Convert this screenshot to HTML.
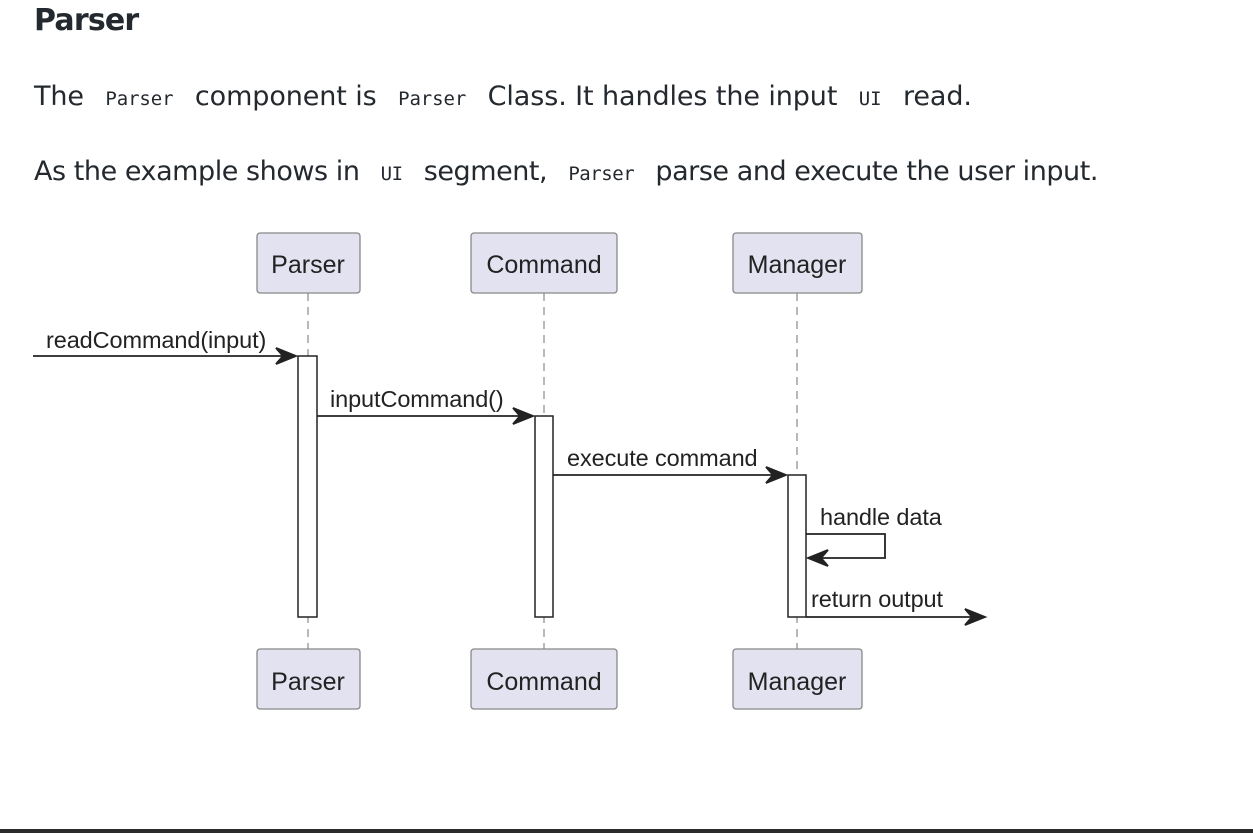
<!DOCTYPE html>
<html><head><style>
body{margin:0;width:1253px;height:835px;background:#fff;overflow:hidden;font-family:"Segoe UI","DejaVu Sans","Liberation Sans",sans-serif;color:#24292f;position:relative}
h2{position:absolute;left:34px;top:3px;margin:0;font-size:30px;font-weight:600;letter-spacing:-0.8px}
p{position:absolute;left:34px;margin:0;font-size:27px;letter-spacing:-0.1px;white-space:nowrap}
code{font-family:"DejaVu Sans Mono","Liberation Mono",monospace;font-size:19px;padding:0 13px}
svg{position:absolute;left:0;top:0}
.bar{position:absolute;left:0;top:829px;width:1253px;height:4px;background:#2b2b2b}
</style></head><body>
<h2>Parser</h2>
<p style="top:81px">The <code>Parser</code> component is <code>Parser</code> Class. It handles the input <code>UI</code> read.</p>
<p style="top:156px;letter-spacing:-0.45px">As the example shows in <code>UI</code> segment, <code>Parser</code> parse and execute the user input.</p>
<svg width="1253" height="835" font-family="Liberation Sans, Arial, sans-serif">
<g stroke="#888" stroke-dasharray="8,6" stroke-width="1.2">
<line x1="308" y1="293" x2="308" y2="649"/><line x1="544" y1="293" x2="544" y2="649"/><line x1="797" y1="293" x2="797" y2="649"/>
</g>
<g fill="#e2e2f0" stroke="#888" stroke-width="1.3">
<rect x="257" y="233" width="103" height="60" rx="3"/><rect x="471" y="233" width="146" height="60" rx="3"/><rect x="733" y="233" width="129" height="60" rx="3"/>
<rect x="257" y="649" width="103" height="60" rx="3"/><rect x="471" y="649" width="146" height="60" rx="3"/><rect x="733" y="649" width="129" height="60" rx="3"/>
</g>
<g font-size="25" fill="#222" text-anchor="middle" letter-spacing="0">
<text x="308" y="273">Parser</text><text x="544" y="273">Command</text><text x="797" y="273">Manager</text>
<text x="308" y="690">Parser</text><text x="544" y="690">Command</text><text x="797" y="690">Manager</text>
</g>
<g fill="#fff" stroke="#222" stroke-width="1.5">
<rect x="298" y="356" width="19" height="261"/><rect x="535" y="416" width="18" height="201"/><rect x="788" y="475" width="18" height="142"/>
</g>
<g stroke="#222" stroke-width="1.8" fill="#222">
<line x1="33" y1="356" x2="290" y2="356"/><path d="M276 348 L296 356 L276 364 L283 356 Z"/>
<line x1="317" y1="416" x2="527" y2="416"/><path d="M513 408 L533 416 L513 424 L520 416 Z"/>
<line x1="553" y1="475" x2="780" y2="475"/><path d="M766 467 L786 475 L766 483 L773 475 Z"/>
<path d="M806 534 L885 534 L885 558 L814 558" fill="none"/><path d="M828 550 L808 558 L828 566 L821 558 Z"/>
<line x1="806" y1="617" x2="979" y2="617"/><path d="M965 609 L985 617 L965 625 L972 617 Z"/>
</g>
<g font-size="23.5" fill="#222" letter-spacing="-0.1">
<text x="46" y="348">readCommand(input)</text>
<text x="330" y="407">inputCommand()</text>
<text x="567" y="466">execute command</text>
<text x="820" y="525">handle data</text>
<text x="811" y="607">return output</text>
</g>
</svg>
<div class="bar"></div>
</body></html>
